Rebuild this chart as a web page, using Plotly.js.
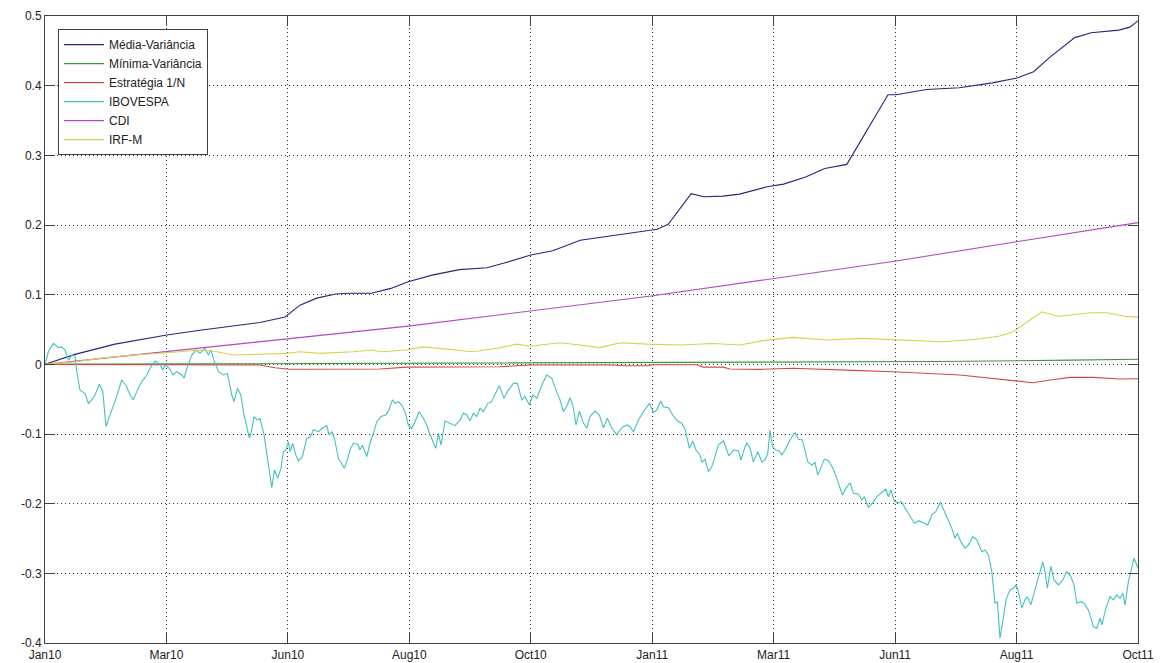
<!DOCTYPE html>
<html>
<head>
<meta charset="utf-8">
<script src="https://cdn.plot.ly/plotly-3.0.1.min.js"></script>
<style>html,body{margin:0;padding:0;background:#fff;}#chart{width:1161px;height:663px;}</style>
</head>
<body>
<div id="chart"></div>
<script>
// time index (evenly spaced session index), x tick labels
var xTickLabels = ["Jan10","Mar10","Jun10","Aug10","Oct10","Jan11","Mar11","Jun11","Aug11","Oct11"];
var xSpan = 546.5;
var yTickVals = [-0.4,-0.3,-0.2,-0.1,0,0.1,0.2,0.3,0.4,0.5];
var yTickText = ["-0.4","-0.3","-0.2","-0.1","0","0.1","0.2","0.3","0.4","0.5"];

var seriesNames = ["Média-Variância","Mínima-Variância","Estratégia 1/N","IBOVESPA","CDI","IRF-M"];

var mvX = [0,15,35,60.9,77.5,92.5,107.5,120,127.5,135.8,145.4,152.3,163.2,172.9,181.6,193.5,207.2,220.9,229.2,242.9,253.9,267.6,281.4,295.1,306.1,311.6,323.1,329.4,339,347.3,361,369.3,380.3,389.9,400.9,421.5,425.6,440.7,457.2,473.7,486,494.3,502.5,514.9,523.1,536.9,542.4,546.5];
var mvY = [0,0.0143,0.029,0.042,0.049,0.055,0.06,0.068,0.085,0.095,0.101,0.102,0.102,0.109,0.1185,0.128,0.136,0.1386,0.145,0.157,0.163,0.178,0.184,0.189,0.194,0.201,0.245,0.2405,0.2415,0.2443,0.2548,0.2587,0.269,0.281,0.287,0.387,0.387,0.3945,0.397,0.404,0.411,0.420,0.441,0.469,0.476,0.4797,0.484,0.493];

var minX = [0,60,110,228,357,446,513,546.5];
var minY = [0,0.0005,0.001,0.0023,0.003,0.004,0.006,0.0072];

var ewX = [0,107.5,115,122.5,167.5,181,227.5,242.5,284,289,301,304,326,329,339,342.5,357.5,374,407.5,424,457.5,474,486,494,502.5,512.5,524,537.5,546.5];
var ewY = [0,-0.001,-0.005,-0.007,-0.0067,-0.004,-0.0034,-0.001,-0.001,-0.002,-0.002,-0.0005,-0.0005,-0.004,-0.004,-0.0067,-0.0072,-0.0057,-0.009,-0.0106,-0.0153,-0.020,-0.024,-0.0264,-0.0225,-0.0187,-0.0187,-0.021,-0.0206];

var ibovX = [0,1.7,4.2,6.7,8.4,10,11.7,13.4,15,15.9,17.5,20,21.7,23.4,25,27.2,28.9,30.5,32.2,33.4,35.5,38.4,40.5,42.5,44.2,46.2,48.4,50.9,52.5,55,57.5,58.9,60,62.2,63.9,65.9,68.4,69.5,70.9,73.4,75.5,77.5,80,81.7,82.9,84.5,86.7,89.2,91.2,93.4,94.5,96.2,97.9,99.5,102.2,103.4,104.5,106.2,107.5,109.5,
110,111.7,113.4,114.7,116.4,118,119.2,120.4,121.7,122.5,123.9,125.4,126.7,128.7,130.9,132.5,134.2,136.7,138.7,140.9,142,143.4,144.7,146.7,148.4,149.7,150.9,152.5,154.2,156.4,157.5,158.7,160.9,162.5,164.2,165.9,168,170.4,172,173.7,175,176.7,178.4,180,181.7,183.4,185,187,188.7,190.9,192.5,194.2,195.4,196.7,198,200,202.5,205,207.5,209.2,210.9,212.5,214.2,215.9,217.5,219.2,221.4,223.4,
225,227.2,229.5,231.7,234.2,236.2,238.4,240,242.2,243.9,245.9,248.4,250.9,253.4,255.5,257.5,259.2,261.2,262.5,263.9,265.5,267.2,268.9,270.9,272.5,275,277.2,279.2,281.2,283.4,285.9,287.5,289.2,291.2,292.5,294.2,296.7,299.2,302.2,304.2,305.9,307.9,309.2,311.7,313.9,316.2,318.4,320,322.2,323.9,325.5,327.5,328.4,330,331.7,333.4,335,
336.7,339.2,342,344.2,346.7,348,349.2,350.9,352.5,354.2,356.4,358.4,360,361.4,362.5,363.7,365.4,367,368.4,370,372.5,375,376.7,378.7,381.4,383.4,385,386.4,388,389.7,391.7,394.2,396.4,398.7,400.4,402.5,404.2,406.7,408.4,409.7,411.7,413.7,415.9,418.4,420.4,421.7,423,424.7,426.7,428.4,430,431.7,434.7,437,439.2,441.4,443.4,445.4,447.7,450,
451.7,453.4,455,456.2,457.9,460,461.7,463.9,465.9,468.4,470,471.7,473.4,475,476.2,477.5,478.9,480.5,482.5,484.2,485.5,486.7,488.4,490,491.2,492.9,495,497.2,498.9,500,501.2,502.9,504.5,506.7,508.9,510.9,512.9,514.5,515.9,517.9,519.5,521.7,524.2,525.9,527.5,528.4,530.5,532.5,534.2,535.9,537.5,538.9,540,541.7,543.4,544.5,545.9,546.5];
var ibovY = [0,0.018,0.030,0.024,0.025,0.0205,0.006,0.013,0.012,-0.0106,-0.037,-0.0416,-0.056,-0.051,-0.044,-0.0287,-0.039,-0.0895,-0.075,-0.0656,-0.0488,-0.0225,-0.0297,-0.044,-0.051,-0.037,-0.025,-0.0153,-0.0057,0.0047,0,-0.008,-0.001,-0.0057,-0.0153,-0.0106,-0.0153,-0.020,-0.0057,0.0133,0.0205,0.0158,0.023,0.0133,0.0205,0.006,-0.0106,-0.0153,-0.013,-0.044,-0.0536,-0.0344,-0.044,-0.0727,-0.106,-0.094,-0.075,-0.080,-0.0775,-0.101,
-0.111,-0.1445,-0.177,-0.1517,-0.1636,-0.149,-0.1254,-0.123,-0.111,-0.1254,-0.1133,-0.130,-0.1387,-0.1326,-0.106,-0.105,-0.094,-0.0967,-0.0918,-0.088,-0.101,-0.0967,-0.106,-0.135,-0.142,-0.149,-0.140,-0.123,-0.1133,-0.1148,-0.123,-0.116,-0.1326,-0.1133,-0.099,-0.0823,-0.075,-0.0727,-0.0656,-0.051,-0.056,-0.0536,-0.0584,-0.068,-0.088,-0.0918,-0.0823,-0.068,-0.075,-0.087,-0.101,-0.111,-0.1205,-0.099,-0.116,-0.0813,-0.0846,-0.088,-0.080,-0.0703,-0.0727,-0.0813,-0.0703,-0.075,-0.063,-0.068,-0.056,-0.0536,
-0.043,-0.0307,-0.0488,-0.037,-0.0273,-0.0273,-0.051,-0.0465,-0.0584,-0.044,-0.0488,-0.0297,-0.0153,-0.020,-0.037,-0.051,-0.068,-0.0584,-0.0479,-0.0584,-0.087,-0.067,-0.0823,-0.0918,-0.075,-0.067,-0.0727,-0.091,-0.0775,-0.0918,-0.101,-0.094,-0.0895,-0.087,-0.0895,-0.0967,-0.080,-0.068,-0.056,-0.0689,-0.0656,-0.0527,-0.0608,-0.0622,-0.0727,-0.0813,-0.0846,-0.0928,-0.1205,-0.110,-0.123,-0.130,-0.1406,-0.1359,-0.154,-0.147,-0.132,
-0.1158,-0.1096,-0.1316,-0.123,-0.124,-0.1373,-0.1254,-0.1125,-0.1205,-0.140,-0.1254,-0.140,-0.1373,-0.1277,-0.0943,-0.118,-0.123,-0.124,-0.130,-0.123,-0.1086,-0.098,-0.1076,-0.1086,-0.140,-0.1445,-0.141,-0.159,-0.147,-0.136,-0.138,-0.1506,-0.168,-0.1875,-0.178,-0.170,-0.185,-0.186,-0.1947,-0.190,-0.205,-0.1994,-0.190,-0.184,-0.1793,-0.190,-0.180,-0.197,-0.1985,-0.197,-0.2066,-0.2138,-0.228,-0.2244,-0.227,-0.2306,-0.216,-0.2115,-0.198,-0.2126,
-0.2234,-0.2353,-0.2496,-0.2425,-0.2545,-0.264,-0.2593,-0.2473,-0.252,-0.2689,-0.2664,-0.2736,-0.2975,-0.343,-0.3406,-0.393,-0.369,-0.338,-0.3238,-0.3214,-0.3166,-0.3262,-0.350,-0.338,-0.3334,-0.3453,-0.3238,-0.300,-0.2832,-0.2975,-0.3214,-0.290,-0.3095,-0.3166,-0.3095,-0.2975,-0.3047,-0.3166,-0.343,-0.3406,-0.343,-0.3525,-0.3765,-0.379,-0.3644,-0.374,-0.350,-0.3334,-0.338,-0.331,-0.3357,-0.3286,-0.3453,-0.312,-0.290,-0.2783,-0.288,-0.2927];

var cdiX = [0,157.7,181.5,303,424.8,485.8,546.5];
var cdiY = [0,0.0476,0.0548,0.098,0.148,0.176,0.2034];

var irfX = [0,15,27.5,44,61,77.5,86,94,111,121,127.5,137.5,154,164,167.5,181,189,201,214,226,236,242.5,257.5,267.5,277.5,287.5,301,317.5,334,347.5,359,374,391,407.5,424,449,466,477.5,484,485.8,498.4,506.5,514.9,523,531.4,539.5,546.5];
var irfY = [0,0.0037,0.0086,0.0133,0.0166,0.0205,0.018,0.0133,0.0148,0.0158,0.018,0.0158,0.018,0.0205,0.018,0.0205,0.025,0.0215,0.018,0.023,0.029,0.026,0.031,0.0277,0.024,0.031,0.029,0.0277,0.030,0.0277,0.034,0.0387,0.035,0.0373,0.035,0.0324,0.0359,0.0406,0.0468,0.05,0.0754,0.069,0.0716,0.074,0.074,0.069,0.0677];

var colors = ["#25257e","#3a9a3a","#d04a4a","#45c0c0","#b248c2","#d8d248"];
var xs = [mvX,minX,ewX,ibovX,cdiX,irfX];
var ys = [mvY,minY,ewY,ibovY,cdiY,irfY];

var traces = seriesNames.map(function(n,i){
  return {x: xs[i], y: ys[i], name: n, type: 'scatter', mode: 'lines',
          line: {color: colors[i], width: 1.1}};
});

var xTickVals = xTickLabels.map(function(_,k){ return xSpan*k/(xTickLabels.length-1); });

var axisCommon = {
  showline: true, linecolor: '#404040', linewidth: 1, mirror: 'ticks',
  ticks: 'inside', ticklen: 10, tickcolor: '#404040', tickwidth: 1,
  showgrid: true, gridcolor: '#333', griddash: '1px,3px', gridwidth: 1,
  zeroline: false, tickfont: {family: 'Liberation Sans, Arial, sans-serif', size: 12, color: '#222'}
};

var layout = {
  width: 1161, height: 663,
  margin: {l: 45, r: 23, t: 16, b: 20},
  paper_bgcolor: '#fff', plot_bgcolor: '#fff',
  showlegend: true,
  xaxis: Object.assign({}, axisCommon, {range: [0, xSpan], tickmode: 'array', tickvals: xTickVals, ticktext: xTickLabels, ticklabelstandoff: 1}),
  yaxis: Object.assign({}, axisCommon, {range: [-0.4, 0.5], tickmode: 'array', tickvals: yTickVals, ticktext: yTickText}),
  legend: {x: 0.0119, y: 0.979, xanchor: 'left', yanchor: 'top', bgcolor: '#fff', bordercolor: '#404040', borderwidth: 1,
           font: {family: 'Liberation Sans, Arial, sans-serif', size: 12, color: '#222'}, itemwidth: 40, tracegroupgap: 0}
};

Plotly.newPlot('chart', traces, layout, {staticPlot: true, displayModeBar: false});
</script>
</body>
</html>
